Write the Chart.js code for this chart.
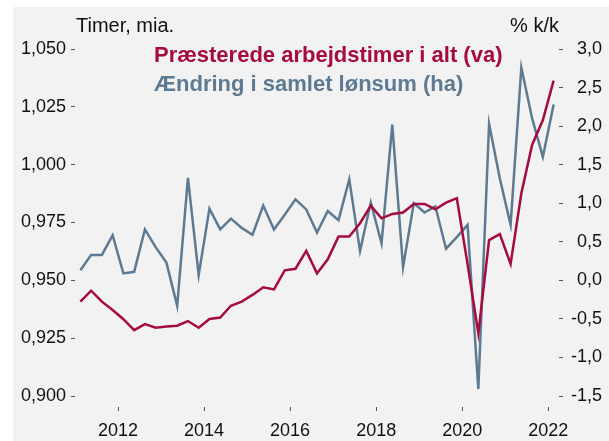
<!DOCTYPE html>
<html>
<head>
<meta charset="utf-8">
<script src="https://cdn.jsdelivr.net/npm/chart.js@4.4.1/dist/chart.umd.min.js"></script>
<style>
  html, body { margin: 0; padding: 0; background: #fff; }
</style>
</head>
<body>
<canvas id="chart" width="609" height="441"></canvas>
<script>
// Kvartaler 2011K1 - 2022K1
const quarters = [
  '2011K1', '2011K2', '2011K3', '2011K4',
  '2012K1', '2012K2', '2012K3', '2012K4',
  '2013K1', '2013K2', '2013K3', '2013K4',
  '2014K1', '2014K2', '2014K3', '2014K4',
  '2015K1', '2015K2', '2015K3', '2015K4',
  '2016K1', '2016K2', '2016K3', '2016K4',
  '2017K1', '2017K2', '2017K3', '2017K4',
  '2018K1', '2018K2', '2018K3', '2018K4',
  '2019K1', '2019K2', '2019K3', '2019K4',
  '2020K1', '2020K2', '2020K3', '2020K4',
  '2021K1', '2021K2', '2021K3', '2021K4',
  '2022K1'
];

// Præsterede arbejdstimer i alt, mia. timer (venstre akse)
const hours = [
  0.9408, 0.9455, 0.9408, 0.9372,
  0.9332, 0.9285, 0.9311, 0.9295,
  0.9300, 0.9304, 0.9324, 0.9295,
  0.9333, 0.9339, 0.9390, 0.9408,
  0.9437, 0.9470, 0.9461, 0.9543,
  0.9550, 0.9627, 0.9530, 0.9591,
  0.9689, 0.9689, 0.9747, 0.9823,
  0.9768, 0.9787, 0.9793, 0.9830,
  0.9830, 0.9807, 0.9836, 0.9855,
  0.9570, 0.9271, 0.9674, 0.9700,
  0.9571, 0.9876, 1.0085, 1.0193,
  1.0363
];

// Ændring i samlet lønsum, pct. k/k (højre akse)
const wageSum = [
  0.13, 0.33, 0.33, 0.585,
  0.09, 0.11, 0.66, 0.43,
  0.23, -0.33, 1.33, 0.07,
  0.93, 0.66, 0.80, 0.68,
  0.59, 0.97, 0.66, 0.85,
  1.05, 0.92, 0.62, 0.90,
  0.78, 1.31, 0.38, 1.01,
  0.48, 2.02, 0.17, 1.00,
  0.88, 0.96, 0.41, 0.56,
  0.72, -1.41, 2.03, 1.32,
  0.72, 2.76, 2.10, 1.60,
  2.28
];

const yearTicks = [2012, 2014, 2016, 2018, 2020, 2022];
const seriesLabels = ['Præsterede arbejdstimer i alt (va)', 'Ændring i samlet lønsum (ha)'];
const leftTitle = 'Timer, mia.';
const rightTitle = '% k/k';

const RED = '#a50b3e';
const BLUE = '#5e7a92';
const FONT = '"Liberation Sans", Arial, Helvetica, sans-serif';

// kvartal placeres midt i kvartalet på en årsakse
function qx(q) {
  const year = parseInt(q.slice(0, 4), 10);
  const k = parseInt(q.slice(5), 10);
  return year + (k - 0.5) / 4;
}

const hoursPts = quarters.map((q, i) => ({ x: qx(q), y: hours[i] }));
const wagePts = quarters.map((q, i) => ({ x: qx(q), y: wageSum[i] }));

const decor = {
  id: 'decor',
  beforeDraw(chart) {
    const ctx = chart.ctx;
    ctx.save();
    ctx.fillStyle = '#f2f2f2';
    ctx.fillRect(13, 7, chart.width - 13, chart.height - 7);
    ctx.restore();
  },
  afterDraw(chart) {
    const ctx = chart.ctx;
    const xs = chart.scales.x;
    ctx.save();
    // små årsstreger lidt under plottet
    ctx.strokeStyle = '#555';
    ctx.lineWidth = 1;
    xs.ticks.forEach(t => {
      const px = Math.round(xs.getPixelForValue(t.value)) + 0.5;
      ctx.beginPath();
      ctx.moveTo(px, 407);
      ctx.lineTo(px, 411);
      ctx.stroke();
    });
    // aksetitler
    ctx.font = '20px ' + FONT;
    ctx.fillStyle = '#111';
    ctx.textBaseline = 'alphabetic';
    ctx.textAlign = 'left';
    ctx.fillText(leftTitle, 76, 32);
    ctx.textAlign = 'right';
    ctx.fillText(rightTitle, 559, 32);
    // signatur
    ctx.font = 'bold 22px ' + FONT;
    ctx.textAlign = 'left';
    chart.data.datasets.forEach((d, i) => {
      ctx.fillStyle = d.borderColor;
      ctx.fillText(d.label, 154, 62 + i * 29);
    });
    ctx.restore();
  }
};

const ctx = document.getElementById('chart').getContext('2d');
const chart = new Chart(ctx, {
  type: 'line',
  data: {
    datasets: [{
      label: seriesLabels[0],
      data: hoursPts,
      yAxisID: 'yL',
      borderColor: RED,
      borderWidth: 2.5,
      pointRadius: 0,
      tension: 0,
      fill: false
    }, {
      label: seriesLabels[1],
      data: wagePts,
      yAxisID: 'yR',
      borderColor: BLUE,
      borderWidth: 2.5,
      pointRadius: 0,
      tension: 0,
      fill: false
    }]
  },
  plugins: [decor],
  options: {
    responsive: false,
    animation: false,
    layout: { padding: { top: 49, left: 0, right: 7, bottom: 0 } },
    plugins: {
      legend: { display: false },
      tooltip: { enabled: false }
    },
    scales: {
      x: {
        type: 'linear',
        min: 2011,
        max: 2022.25,
        afterBuildTicks: s => { s.ticks = yearTicks.map(v => ({ value: v })); },
        afterFit: s => { s.height = 45; },
        grid: { display: false },
        border: { display: false },
        ticks: {
          padding: 16,
          font: { family: FONT, size: 18 },
          color: '#111',
          callback: v => String(v)
        }
      },
      yL: {
        position: 'left',
        min: 0.9,
        max: 1.05,
        afterFit: s => { s.width = 75; },
        grid: { drawOnChartArea: false, drawTicks: true, tickLength: 4, tickColor: '#555' },
        border: { display: false },
        ticks: {
          stepSize: 0.025,
          padding: 5,
          font: { family: FONT, size: 18 },
          color: '#111',
          callback: v => v.toFixed(3).replace('.', ',')
        }
      },
      yR: {
        position: 'right',
        min: -1.5,
        max: 3,
        afterFit: s => { s.width = 43; },
        grid: { drawOnChartArea: false, drawTicks: true, tickLength: 4, tickColor: '#555' },
        border: { display: false },
        ticks: {
          stepSize: 0.5,
          crossAlign: 'far',
          font: { family: FONT, size: 18 },
          color: '#111',
          callback: v => v.toFixed(1).replace('.', ',')
        }
      }
    }
  }
});
</script>
</body>
</html>
